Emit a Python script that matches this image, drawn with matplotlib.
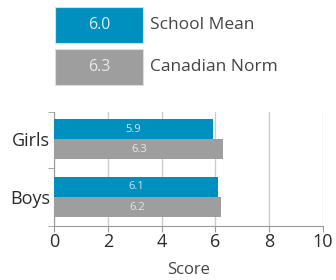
import matplotlib.pyplot as plt
from matplotlib.patches import Rectangle
import numpy as np

plt.rcParams['font.family'] = ['Open Sans', 'DejaVu Sans']

groups = ['Boys', 'Girls']
school = [6.1, 5.9]
norm = [6.2, 6.3]
school_mean = 6.0
canadian_norm = 6.3
xticks = [0, 2, 4, 6, 8, 10]

blue = '#0090bf'
grey = '#9e9e9e'

fig = plt.figure(figsize=(3.36, 2.8), dpi=100)
ax = fig.add_axes([0.161, 0.193, 0.8, 0.407])

y = np.arange(len(groups))
h = 0.35
b1 = ax.barh(y + h / 2, school, height=h, color=blue, zorder=3)
b2 = ax.barh(y - h / 2, norm, height=h, color=grey, zorder=3)
for bars, vals, c in [(b1, school, '#cfe6ef'), (b2, norm, '#e6e6e6')]:
    for bar, v in zip(bars, vals):
        ax.text(v / 2, bar.get_y() + bar.get_height() / 2, f'{v:.1f}',
                ha='center', va='center', fontsize=8, color=c, zorder=4)

ax.set_xlim(0, 10)
ax.set_ylim(-0.5, 1.47)
ax.set_xticks(xticks)
ax.set_xticklabels([str(t) for t in xticks], fontsize=13, color='#2a2a2a')
ax.set_yticks(y)
ax.set_yticklabels(groups, fontsize=13, color='#2a2a2a')
ax.set_yticks([-0.5, 0.5, 1.47], minor=True)
ax.tick_params(axis='y', which='major', length=0, pad=3)
ax.tick_params(axis='y', which='minor', length=4, color='#999999')
ax.tick_params(axis='x', length=4, color='#999999', pad=1)
ax.grid(axis='x', color='#cccccc', lw=1, zorder=0)
for s in ['top', 'right']:
    ax.spines[s].set_visible(False)
for s in ['left', 'bottom']:
    ax.spines[s].set_color('#999999')
ax.set_xlabel('Score', fontsize=12, color='#444444', labelpad=8)

# legend boxes
for i, (val, lab, c, tc) in enumerate([(school_mean, 'School Mean', blue, '#d8eef5'),
                                        (canadian_norm, 'Canadian Norm', grey, '#e8e8e8')]):
    y0 = 1 - (7 + 42 * i + 36) / 280
    fig.add_artist(Rectangle((55 / 336, y0), 88 / 336, 36 / 280,
                             transform=fig.transFigure, facecolor=c,
                             edgecolor='#dddddd', lw=0.8))
    fig.text(99 / 336, y0 + 18 / 280, f'{val:.1f}', ha='center', va='center',
             fontsize=11.5, color=tc)
    fig.text(150 / 336, y0 + 18 / 280, lab, ha='left', va='center',
             fontsize=12.5, color='#444444')

fig.savefig('out.png', dpi=100)
